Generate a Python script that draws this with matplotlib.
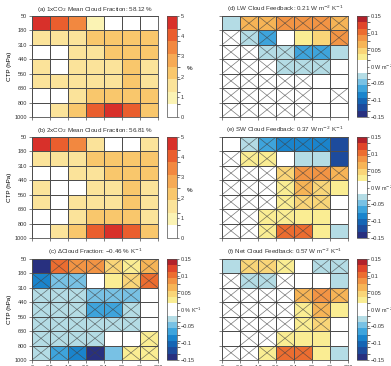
import numpy as np
import matplotlib
matplotlib.use("Agg")
import matplotlib.pyplot as plt
from matplotlib.colors import ListedColormap, BoundaryNorm

plt.rcParams['font.family'] = ['Liberation Sans', 'DejaVu Sans']
plt.rcParams['text.color'] = '0.2'
plt.rcParams['axes.edgecolor'] = '0.3'
plt.rcParams['xtick.color'] = '0.3'
plt.rcParams['ytick.color'] = '0.3'
plt.rcParams['xtick.labelcolor'] = '0.2'
plt.rcParams['ytick.labelcolor'] = '0.2'

# bins
ctp_labels = ['50', '180', '310', '440', '560', '680', '800', '1000']
tau_labels = ['0', '0.3', '1.3', '3.6', '9.4', '23', '60', '380']

# rows: top (50-180 hPa) -> bottom (800-1000 hPa); cols: tau bins
cf1 = [
    [4.6, 4.0, 3.6, 1.0, 0.2, 0.2, 0.2],
    [1.5, 1.5, 1.5, 2.2, 2.2, 2.2, 2.2],
    [0.3, 0.3, 1.5, 1.5, 2.2, 2.2, 2.4],
    [1.5, 0.3, 1.5, 1.5, 1.5, 2.2, 1.5],
    [1.5, 1.5, 1.5, 1.5, 1.5, 2.2, 1.5],
    [0.3, 0.3, 1.5, 2.2, 2.2, 2.2, 2.2],
    [0.3, 1.5, 2.2, 4.0, 4.6, 4.0, 2.2],
]
cf2 = [
    [4.6, 4.3, 3.6, 1.5, 0.2, 0.2, 1.5],
    [1.5, 1.5, 1.5, 2.2, 2.2, 2.2, 2.2],
    [0.3, 0.3, 1.5, 1.5, 2.2, 2.2, 2.2],
    [1.5, 0.3, 0.3, 1.5, 1.5, 2.2, 1.5],
    [1.5, 0.3, 1.5, 1.5, 1.5, 2.2, 1.5],
    [0.3, 0.3, 1.5, 2.2, 2.2, 2.2, 1.5],
    [0.3, 1.5, 2.2, 3.9, 4.6, 4.0, 2.2],
]
dcf = [
    [-0.14, 0.11, 0.075, 0.08, 0.05, 0.03, 0.065],
    [-0.08, -0.055, -0.055, 0.0, 0.03, 0.055, 0.10],
    [-0.03, -0.03, -0.03, -0.055, -0.055, -0.05, 0.0],
    [-0.03, -0.03, -0.03, -0.06, -0.06, -0.035, 0.0],
    [-0.03, -0.03, -0.03, -0.03, -0.03, -0.03, 0.0],
    [-0.03, -0.03, -0.03, -0.03, 0.0, 0.0, 0.025],
    [-0.03, -0.06, -0.08, -0.14, -0.055, 0.025, 0.025],
]
dcf_x = [
    [0, 1, 1, 1, 1, 1, 1],
    [1, 1, 1, 0, 0, 1, 1],
    [1, 1, 1, 1, 1, 1, 0],
    [1, 1, 1, 1, 1, 1, 0],
    [1, 1, 1, 1, 1, 1, 0],
    [1, 1, 1, 1, 0, 0, 1],
    [1, 1, 1, 1, 0, 1, 1],
]
lw = [
    [-0.03, 0.065, 0.065, 0.085, 0.085, 0.085, 0.065],
    [0.0, -0.03, -0.065, 0.0, 0.025, 0.05, 0.09],
    [0.0, 0.0, -0.03, -0.03, -0.065, -0.065, -0.03],
    [0.0, 0.0, 0.0, -0.03, -0.03, -0.03, 0.0],
    [0.0, 0.0, 0.0, 0.0, 0.0, 0.0, 0.0],
    [0.0, 0.0, 0.0, 0.0, 0.0, 0.0, 0.0],
    [0.0, 0.0, 0.0, 0.0, 0.0, 0.0, 0.0],
]
lw_x = [
    [0, 1, 1, 1, 1, 1, 1],
    [1, 1, 1, 0, 0, 0, 1],
    [1, 1, 1, 1, 1, 1, 0],
    [1, 1, 1, 1, 1, 1, 0],
    [1, 1, 1, 1, 1, 0, 0],
    [1, 1, 1, 1, 1, 0, 1],
    [1, 1, 1, 1, 1, 0, 0],
]
sw = [
    [0.0, -0.03, -0.06, -0.08, -0.08, -0.08, -0.12],
    [0.0, 0.025, 0.025, 0.0, -0.03, -0.03, -0.12],
    [0.0, 0.0, 0.0, 0.05, 0.075, 0.09, 0.07],
    [0.0, 0.0, 0.0, 0.03, 0.07, 0.055, 0.025],
    [0.0, 0.0, 0.0, 0.03, 0.05, 0.05, 0.0],
    [0.0, 0.0, 0.025, 0.025, 0.025, 0.025, 0.0],
    [0.0, 0.0, 0.025, 0.105, 0.105, 0.025, -0.03],
]
sw_x = [
    [0, 1, 1, 1, 1, 1, 0],
    [1, 1, 1, 0, 0, 0, 0],
    [1, 1, 1, 1, 1, 1, 1],
    [1, 1, 1, 1, 1, 1, 0],
    [1, 1, 1, 1, 1, 1, 0],
    [1, 1, 1, 1, 0, 0, 0],
    [1, 1, 1, 1, 1, 0, 0],
]
net = [
    [-0.03, 0.05, 0.05, 0.025, 0.0, -0.03, -0.03],
    [0.0, -0.03, -0.03, 0.0, 0.0, 0.0, -0.03],
    [0.0, 0.0, 0.0, 0.0, 0.065, 0.085, 0.065],
    [0.0, 0.0, 0.0, 0.0, 0.025, 0.065, 0.025],
    [0.0, 0.0, 0.0, 0.0, 0.025, 0.05, 0.0],
    [0.0, 0.0, 0.0, 0.025, 0.025, 0.025, 0.0],
    [0.0, 0.0, 0.025, 0.095, 0.105, 0.025, -0.03],
]
net_x = [
    [0, 1, 1, 1, 0, 1, 1],
    [1, 1, 1, 1, 0, 0, 0],
    [1, 1, 1, 1, 1, 1, 1],
    [1, 1, 1, 1, 1, 1, 0],
    [1, 1, 1, 1, 1, 1, 0],
    [0, 1, 1, 1, 0, 0, 0],
    [1, 1, 1, 1, 1, 0, 0],
]

titles = [
    '(a) 1xCO$_2$ Mean Cloud Fraction: 58.12 %',
    '(b) 2xCO$_2$ Mean Cloud Fraction: 56.81 %',
    '(c) \u0394Cloud Fraction: \u22120.46 % K$^{-1}$',
    '(d) LW Cloud Feedback: 0.21 W m$^{-2}$ K$^{-1}$',
    '(e) SW Cloud Feedback: 0.37 W m$^{-2}$ K$^{-1}$',
    '(f) Net Cloud Feedback: 0.57 W m$^{-2}$ K$^{-1}$',
]

# colormaps
cf_colors = ['#ffffff', '#fbf3b4', '#fbe39a', '#f9c76c', '#f6aa55',
             '#f28840', '#ea5e2e', '#d8302a']
cf_cmap = ListedColormap(cf_colors)
cf_norm = BoundaryNorm(np.linspace(0, 5, len(cf_colors) + 1), cf_cmap.N)

fb_colors = ['#28307f', '#1d4b9c', '#1565b4', '#1a84cc', '#3ea4dc', '#78c1e4',
             '#b4dce5', '#ffffff', '#ffffff', '#faed93', '#f9d578', '#f6b456',
             '#f29444', '#ec6d30', '#e0452a', '#b2212a']
fb_cmap = ListedColormap(fb_colors)
fb_norm = BoundaryNorm(np.linspace(-0.15, 0.15, len(fb_colors) + 1), fb_cmap.N)

W, H = 391, 366
fig = plt.figure(figsize=(W / 100, H / 100), dpi=100)

col_left = [32, 222]
col_cb = [167, 357]
row_top = [16, 137, 259]
aw, ah = 126, 101


def add_panel(col, row, data, cmap, norm, title, xmask=None, cb_ticks=None,
              cb_labels=None, cb_label=None):
    l = col_left[col] / W
    b = 1 - (row_top[row] + ah) / H
    ax = fig.add_axes([l, b, aw / W, ah / H])
    arr = np.array(data)
    mesh = ax.pcolormesh(np.arange(8), np.arange(8), arr, cmap=cmap, norm=norm,
                         edgecolors='0.3', linewidth=0.6)
    if xmask is not None:
        m = np.array(xmask)
        for i in range(7):
            for j in range(7):
                if m[i, j]:
                    ax.plot([j, j + 1], [i, i + 1], color='0.25', lw=0.5, alpha=0.7)
                    ax.plot([j, j + 1], [i + 1, i], color='0.25', lw=0.5, alpha=0.7)
    ax.set_xlim(0, 7)
    ax.set_ylim(7, 0)
    ax.set_xticks(np.arange(8))
    ax.set_yticks(np.arange(8))
    if row == 2:
        ax.set_xticklabels(tau_labels)
    else:
        ax.set_xticklabels([])
    if col == 0:
        ax.set_yticklabels(ctp_labels)
        ax.set_ylabel('CTP (hPa)', fontsize=4.5, labelpad=2)
    else:
        ax.set_yticklabels([])
    ax.tick_params(length=2.5, width=0.5, labelsize=4, pad=1)
    for s in ax.spines.values():
        s.set_linewidth(0.6)
    ax.set_title(title, fontsize=4.5, pad=3.5)

    cax = fig.add_axes([col_cb[col] / W, b, 10 / W, ah / H])
    cb = fig.colorbar(mesh, cax=cax, ticks=cb_ticks)
    cb.ax.set_yticklabels(cb_labels)
    cb.ax.tick_params(length=1.5, width=0.5, labelsize=4, pad=1)
    cb.outline.set_linewidth(0.5)
    if cb_label:
        cb.set_label(cb_label, fontsize=4.5, rotation=0, labelpad=4)
    return ax


cf_ticks = [0, 1, 2, 3, 4, 5]
cf_tlabels = ['0', '1', '2', '3', '4', '5']
fb_ticks = [-0.15, -0.1, -0.05, 0, 0.05, 0.1, 0.15]
wm_labels = ['\u22120.15', '\u22120.1', '\u22120.05', '0 W m$^{-2}$', '0.05', '0.1', '0.15']
pk_labels = ['\u22120.15', '\u22120.1', '\u22120.05', '0 % K$^{-1}$', '0.05', '0.1', '0.15']

add_panel(0, 0, cf1, cf_cmap, cf_norm, titles[0], cb_ticks=cf_ticks,
          cb_labels=cf_tlabels, cb_label='%')
add_panel(0, 1, cf2, cf_cmap, cf_norm, titles[1], cb_ticks=cf_ticks,
          cb_labels=cf_tlabels, cb_label='%')
add_panel(0, 2, dcf, fb_cmap, fb_norm, titles[2], xmask=dcf_x, cb_ticks=fb_ticks,
          cb_labels=pk_labels)
add_panel(1, 0, lw, fb_cmap, fb_norm, titles[3], xmask=lw_x, cb_ticks=fb_ticks,
          cb_labels=wm_labels)
add_panel(1, 1, sw, fb_cmap, fb_norm, titles[4], xmask=sw_x, cb_ticks=fb_ticks,
          cb_labels=wm_labels)
add_panel(1, 2, net, fb_cmap, fb_norm, titles[5], xmask=net_x, cb_ticks=fb_ticks,
          cb_labels=wm_labels)

fig.savefig('out.png', dpi=100)
